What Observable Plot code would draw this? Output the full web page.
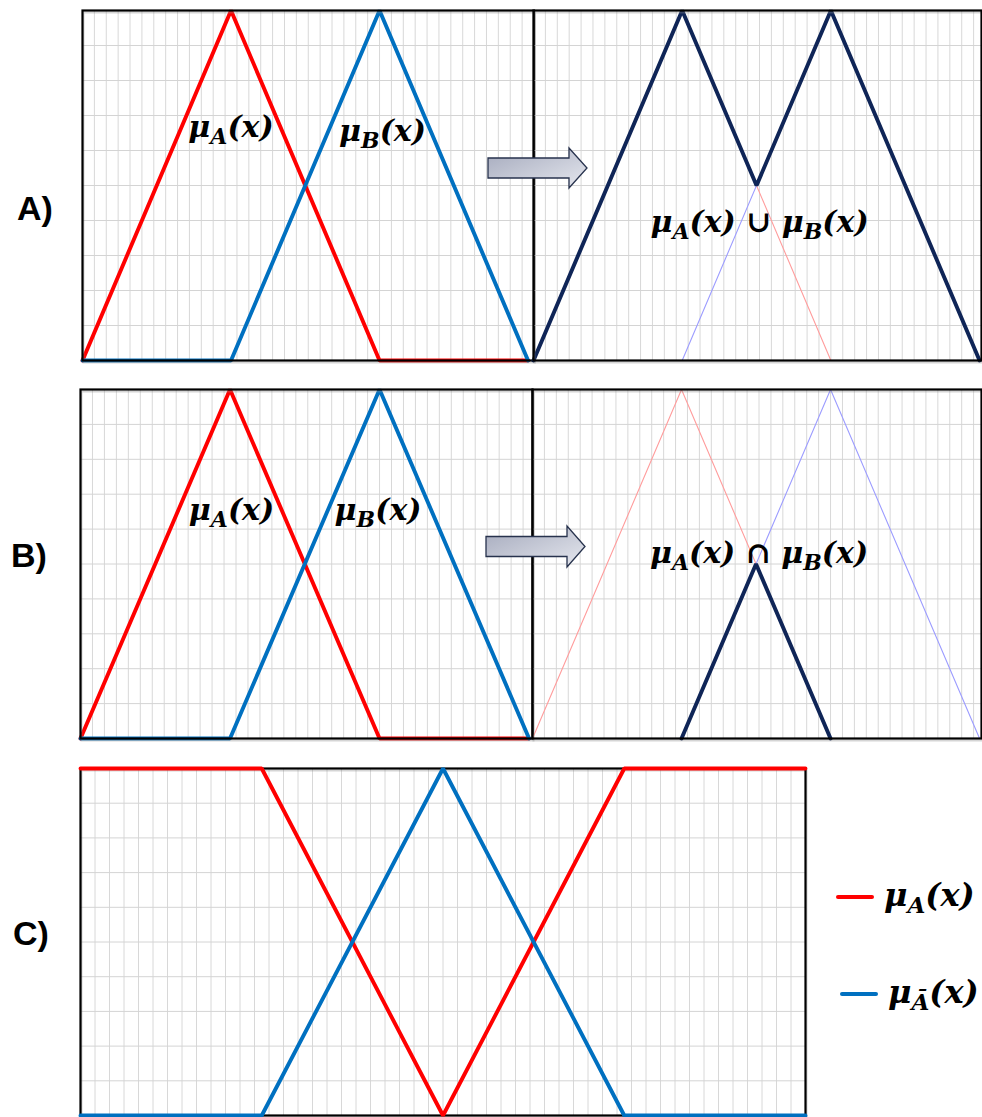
<!DOCTYPE html>
<html>
<head>
<meta charset="utf-8">
<script src="https://cdn.jsdelivr.net/npm/d3@7"></script>
<script src="https://cdn.jsdelivr.net/npm/@observablehq/plot@0.6"></script>
<style>
  html, body { margin: 0; padding: 0; background: #fff; overflow: hidden; }
  #fig { position: relative; width: 982px; height: 1117px; overflow: hidden; }
  .row-label { position: absolute; font-family: "Liberation Sans", Arial, sans-serif;
               font-weight: bold; font-size: 34px; line-height: 1; color: #000; }
  .legend-item { position: absolute; display: flex; align-items: center; }
  .legend-text { font-family: "DejaVu Serif", serif; font-weight: bold; font-style: italic;
                 font-size: 32px; line-height: 1; color: #000; margin-left: 10px; }
  .legend-text sub { font-size: 0.72em; vertical-align: -0.3em; }
</style>
</head>
<body>
<div id="fig"></div>
<script>
// Breakpoints of the triangular membership functions (A and B rows)
const xAB = [0, 1, 2, 3];
const muA = [0, 1, 0, 0];
const muB = [0, 0, 1, 0];

// Union (max) and intersection (min) of the two triangles
const unionX = [0, 1, 1.5, 2, 3];
const unionY = [0, 1, 0.5, 1, 0];
const interX = [1, 1.5, 2];
const interY = [0, 0.5, 0];

// Row C: a set and its complement
const xC = [0, 1, 2, 3, 4];
const muC = [1, 1, 0, 1, 1];
const muNotC = [0, 0, 1, 0, 0];

// Grid spacing
const gridStepX = 0.08;
const gridStepY = 0.1;

const RED = "#ff0000";
const BLUE = "#0070c0";
const NAVY = "#0f2557";
const RED_FAINT = "#ff9c9c";
const BLUE_FAINT = "#9c9cff";

const fig = document.getElementById("fig");

const series = (xs, ys) => xs.map((x, i) => ({x, y: ys[i]}));

function gridMarks(xMax) {
  const nx = Math.floor(xMax / gridStepX + 1e-9);
  const gx = d3.range(1, nx + 1).map(i => i * gridStepX).filter(v => v < xMax - 1e-6);
  const gy = d3.range(1, 10).map(i => i * gridStepY);
  return [
    Plot.ruleX(gx, {stroke: "#d8d8d8", strokeWidth: 1}),
    Plot.ruleY(gy, {stroke: "#d4d4d4", strokeWidth: 1})
  ];
}

// Turn "μ_A(x)" style strings into text with subscript tspans
function subscripts(svg, fontSize) {
  const shift = Math.round(fontSize * 0.22);
  svg.querySelectorAll("text").forEach(t => {
    const s = t.textContent;
    if (!s.includes("_")) return;
    const parts = s.split(/_(.)/);
    t.textContent = "";
    parts.forEach((p, i) => {
      if (p === "") return;
      const ts = document.createElementNS("http://www.w3.org/2000/svg", "tspan");
      ts.textContent = p;
      if (i % 2 === 1) {
        ts.setAttribute("font-size", Math.round(fontSize * 0.72));
        ts.setAttribute("dy", shift);
      } else if (i > 0) {
        ts.setAttribute("dy", -shift);
      }
      t.appendChild(ts);
    });
  });
}

const LABEL_SIZE = 30;
const labelStyle = {
  fontFamily: "DejaVu Serif", fontWeight: "bold", fontStyle: "italic",
  fontSize: LABEL_SIZE, fill: "#000", textAnchor: "middle"
};

function panel(box, xMax, marks, linesOnTop = false) {
  const m = 5;
  const frame = [
    Plot.frame({stroke: "#888", strokeWidth: 2, strokeOpacity: 0.35, dx: 1, dy: 2}),
    Plot.frame({stroke: "#000", strokeWidth: 2.2})
  ];
  const svg = Plot.plot({
    width: box.w + 2 * m,
    height: box.h + 2 * m,
    margin: m,
    style: {background: "transparent", overflow: "visible"},
    x: {domain: [0, xMax], axis: null},
    y: {domain: [0, 1], axis: null},
    marks: linesOnTop
      ? [...gridMarks(xMax), ...frame, ...marks]
      : [...gridMarks(xMax), ...marks, ...frame]
  });
  subscripts(svg, LABEL_SIZE);
  svg.style.position = "absolute";
  svg.style.left = (box.x - m) + "px";
  svg.style.top = (box.y - m) + "px";
  fig.appendChild(svg);
  return svg;
}

const thick = (data, color) => Plot.line(data, {x: "x", y: "y", stroke: color, strokeWidth: 3.9, strokeLinejoin: "miter"});
const thin = (data, color) => Plot.line(data, {x: "x", y: "y", stroke: color, strokeWidth: 1.1});
const label = (x, y, t) => Plot.text([{x, y, t}], {x: "x", y: "y", text: "t", ...labelStyle});

const A = series(xAB, muA);
const B = series(xAB, muB);

// Row A: two triangles, then their union
panel({x: 81.5, y: 10, w: 451.5, h: 350}, 3.04, [
  thick(A, RED), thick(B, BLUE),
  label(1.0, 0.665, "μ_A(x)"), label(2.02, 0.655, "μ_B(x)")
]);
panel({x: 533, y: 10, w: 448, h: 350}, 3.013, [
  thin(A, RED_FAINT), thin(B, BLUE_FAINT),
  thick(series(unionX, unionY), NAVY),
  label(1.52, 0.395, "μ_A(x) ∪ μ_B(x)")
]);

// Row B: two triangles, then their intersection
panel({x: 80, y: 389, w: 452, h: 349}, 3.023, [
  thick(A, RED), thick(B, BLUE),
  label(1.01, 0.655, "μ_A(x)"), label(1.99, 0.655, "μ_B(x)")
]);
panel({x: 532, y: 389, w: 449, h: 349}, 3.013, [
  thin(A, RED_FAINT), thin(B, BLUE_FAINT),
  thick(series(interX, interY), NAVY),
  label(1.52, 0.53, "μ_A(x) ∩ μ_B(x)")
]);

// Row C: a set and its complement
panel({x: 80, y: 768, w: 725, h: 347}, 4, [
  thick(series(xC, muC), RED), thick(series(xC, muNotC), BLUE)
], true);

// Arrows between the left and right plots of rows A and B
function arrow(x, yMid, len, bodyH, headH, headL) {
  const ns = "http://www.w3.org/2000/svg";
  const svg = document.createElementNS(ns, "svg");
  svg.setAttribute("width", len + 4);
  svg.setAttribute("height", headH + 4);
  svg.style.position = "absolute";
  svg.style.left = (x - 2) + "px";
  svg.style.top = (yMid - headH / 2 - 2) + "px";
  const id = "g" + Math.round(yMid);
  const h = headH / 2, b = bodyH / 2, cy = h + 2;
  const pts = [
    [2, cy - b], [2 + len - headL, cy - b], [2 + len - headL, cy - h],
    [2 + len, cy], [2 + len - headL, cy + h], [2 + len - headL, cy + b], [2, cy + b]
  ];
  svg.innerHTML = `
    <defs><linearGradient id="${id}" x1="0" y1="0" x2="1" y2="1">
      <stop offset="0" stop-color="#a4a9bc"/><stop offset="1" stop-color="#e6e8ef"/>
    </linearGradient></defs>
    <polygon points="${pts.map(p => p.join(",")).join(" ")}" fill="url(#${id})"
      stroke="#27324d" stroke-width="1.3" stroke-linejoin="miter"/>`;
  fig.appendChild(svg);
}
arrow(488, 168, 99, 20, 40, 18);
arrow(486, 546, 99, 20, 41, 18);

// Row labels
[["A)", 17, 197], ["B)", 11, 544], ["C)", 13, 922]].forEach(([t, x, y]) => {
  const d = document.createElement("div");
  d.className = "row-label";
  d.textContent = t;
  d.style.left = x + "px";
  d.style.top = (y - 6) + "px";
  fig.appendChild(d);
});

// Legend for row C
function legendItem(color, html, x, y) {
  const d = document.createElement("div");
  d.className = "legend-item";
  d.style.left = x + "px";
  d.style.top = (y - 20) + "px";
  d.style.height = "40px";
  d.innerHTML = `<svg width="38" height="8"><line x1="2" y1="4" x2="36" y2="4"
    stroke="${color}" stroke-width="4" stroke-linecap="round"/></svg>
    <span class="legend-text">${html}</span>`;
  fig.appendChild(d);
}
legendItem(RED, "μ<sub>A</sub>(x)", 836, 897);
legendItem(BLUE, "μ<sub>Ā</sub>(x)", 840, 994);
</script>
</body>
</html>
